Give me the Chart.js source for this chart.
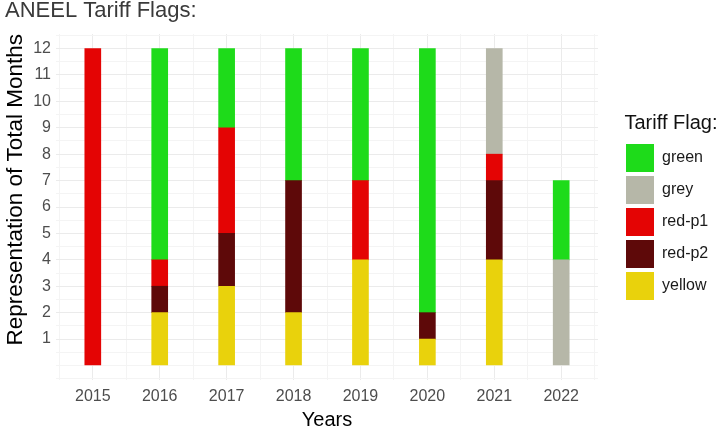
<!DOCTYPE html>
<html lang="en">
<head>
    <meta charset="UTF-8">
    <title>ANEEL Tariff Flags</title>
    <script src="https://cdn.jsdelivr.net/npm/chart.js"></script>
    <style>
        html, body { margin: 0; padding: 0; background: #fff; }
        .wrap { width: 720px; height: 430px; }
    </style>
</head>
<body>
<div class="wrap"><canvas id="flags" width="720" height="430"></canvas></div>
<script>
    // years on the x axis
    const years = [2015, 2016, 2017, 2018, 2019, 2020, 2021, 2022];

    // months per flag, per year (null = none)
    const yellow = [null, 2, 3, 2, 4, 1, 4, null];
    const redP2  = [null, 1, 2, 5, null, 1, 3, null];
    const redP1  = [12, 1, 4, null, 3, null, 1, null];
    const grey   = [null, null, null, null, null, null, 4, 4];
    const green  = [null, 8, 3, 5, 5, 10, null, 3];

    const yTicks = [1, 2, 3, 4, 5, 6, 7, 8, 9, 10, 11, 12];

    function points(arr) {
        return arr.map(function (v, i) { return { x: years[i], y: v }; });
    }

    function makeSet(label, arr, color) {
        return {
            label: label,
            data: points(arr),
            backgroundColor: color,
            borderWidth: 0,
            barThickness: 16
        };
    }

    // stacked bottom to top, legend reversed so green is first
    const datasets = [
        makeSet('yellow', yellow, '#e9d20c'),
        makeSet('red-p2', redP2, '#5e0909'),
        makeSet('red-p1', redP1, '#e40404'),
        makeSet('grey', grey, '#b6b7a8'),
        makeSet('green', green, '#1edb1a')
    ];

    function halfSteps(from, to) {
        let out = [];
        for (let v = from; v <= to + 1e-9; v += 0.5) out.push({ value: Math.round(v * 10) / 10 });
        return out;
    }

    function tickVal(ctx) {
        return ctx && ctx.tick ? ctx.tick.value : NaN;
    }

    // legend sits right of the panel with a gap, like the ggplot guide
    const legendPlacer = {
        id: 'legendPlacer',
        beforeLayout: function (chart) {
            const lg = chart.legend;
            if (lg && !lg._widthFixed) {
                const fit = lg.fit;
                lg.fit = function () { fit.call(this); this.width = 122; };
                lg._widthFixed = true;
            }
        },
        afterLayout: function (chart) {
            const lg = chart.legend;
            if (!lg) return;
            lg.left = 622;
            lg.right = 720;
            lg.width = 98;
        }
    };

    const font = "'Liberation Sans', Arial, sans-serif";

    new Chart(document.getElementById('flags'), {
        type: 'bar',
        data: { datasets: datasets },
        plugins: [legendPlacer],
        options: {
            responsive: false,
            animation: false,
            layout: { padding: { left: 5, right: 0, top: 0, bottom: 0 } },
            plugins: {
                tooltip: { enabled: false },
                title: {
                    display: true,
                    text: 'ANEEL Tariff Flags:',
                    align: 'start',
                    color: '#3a3a3a',
                    font: { family: font, size: 22, weight: 'normal', lineHeight: 1 },
                    padding: { top: 0, bottom: 12 }
                },
                legend: {
                    position: 'right',
                    fullSize: false,
                    reverse: true,
                    title: {
                        display: true,
                        text: 'Tariff Flag:',
                        color: '#111',
                        font: { family: font, size: 20, lineHeight: 1.15 },
                        padding: { top: 3, bottom: 4 }
                    },
                    labels: {
                        boxWidth: 28,
                        boxHeight: 28,
                        padding: 4,
                        color: '#1a1a1a',
                        font: { family: font, size: 16 }
                    }
                }
            },
            scales: {
                x: {
                    type: 'linear',
                    stacked: true,
                    offset: false,
                    min: 2014.45,
                    max: 2022.55,
                    afterBuildTicks: function (scale) { scale.ticks = halfSteps(2014.5, 2022.5); },
                    afterFit: function (scale) { scale.height = 50; },
                    border: { display: false },
                    grid: {
                        offset: false,
                        color: function (ctx) {
                            return Number.isInteger(tickVal(ctx)) ? '#ebebeb' : '#f4f4f4';
                        },
                        lineWidth: 1,
                        drawTicks: false
                    },
                    ticks: {
                        autoSkip: false,
                        maxRotation: 0,
                        padding: 7,
                        color: '#4d4d4d',
                        font: { family: font, size: 16 },
                        callback: function (v) { return years.includes(v) ? String(v) : ''; }
                    },
                    title: {
                        display: true,
                        text: 'Years',
                        color: '#000',
                        font: { family: font, size: 20, lineHeight: 1 },
                        padding: { top: 0, bottom: 0 }
                    }
                },
                y: {
                    stacked: true,
                    min: -0.55,
                    max: 12.55,
                    afterBuildTicks: function (scale) { scale.ticks = halfSteps(-0.5, 12.5); },
                    afterFit: function (scale) { scale.width = 51; },
                    border: { display: false },
                    grid: {
                        color: function (ctx) {
                            return yTicks.includes(tickVal(ctx)) ? '#ebebeb' : '#f4f4f4';
                        },
                        lineWidth: 1,
                        drawTicks: false
                    },
                    ticks: {
                        autoSkip: false,
                        padding: 5,
                        color: '#4d4d4d',
                        font: { family: font, size: 16 },
                        callback: function (v) { return yTicks.includes(v) ? String(v) : ''; }
                    },
                    title: {
                        display: true,
                        text: 'Representation of Total Months',
                        align: 'end',
                        color: '#000',
                        font: { family: font, size: 22.5, lineHeight: 1 },
                        padding: { top: 0, bottom: 0 }
                    }
                }
            }
        }
    });
</script>
</body>
</html>
